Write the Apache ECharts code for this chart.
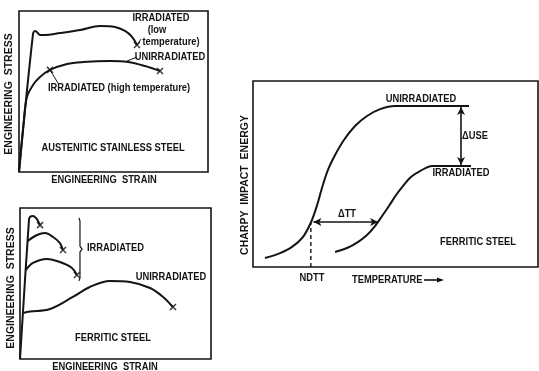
<!DOCTYPE html>
<html><head><meta charset="utf-8">
<script src="https://cdn.jsdelivr.net/npm/echarts@6/dist/echarts.min.js"></script>
<style>html,body{margin:0;padding:0;background:#fff}#c{width:539px;height:371px}</style>
</head><body><div id="c"></div>
<script>
// ---------- Panel 1: austenitic stainless steel (strain %, stress % of box) ----------
const austIrrLowStrain = [0, 7.4, 8.5, 9.5, 11.1, 13.8, 21.7, 32.3, 42.9, 50.8, 56.1, 59.8, 62.4];
const austIrrLowStress = [0, 85.7, 87.6, 87.0, 85.1, 85.1, 86.3, 88.2, 90.7, 90.1, 87.6, 83.9, 78.9];
const austUnirrStrain = [0, 2.6, 4.2, 7.4, 11.1, 16.4, 25.4, 33.9, 48.1, 57.7, 66.7, 74.6];
const austUnirrStress = [0, 32.3, 46.6, 54.0, 59.0, 63.4, 67.1, 68.3, 68.9, 68.3, 65.8, 62.7];
const austFractureStrain = [62.4, 16.4, 74.6];
const austFractureStress = [78.9, 63.4, 62.7];

// ---------- Panel 2: ferritic steel ----------
const ferrIrr1Strain = [0, 4.7, 5.2, 6.8, 8.4, 9.4, 10.5];
const ferrIrr1Stress = [0, 92.1, 94.0, 94.7, 93.4, 91.4, 88.7];
const ferrIrr2Strain = [4.0, 8.9, 13.1, 17.3, 20.9, 22.5];
const ferrIrr2Stress = [78.1, 82.1, 83.4, 80.8, 76.8, 72.2];
const ferrIrr3Strain = [3.0, 6.8, 14.1, 20.9, 27.2, 29.8];
const ferrIrr3Stress = [58.9, 63.6, 66.2, 64.2, 60.3, 55.6];
const ferrUnirrStrain = [1.6, 5.2, 15.7, 27.7, 36.6, 47.1, 57.6, 68.1, 74.9, 80.1];
const ferrUnirrStress = [30.5, 31.4, 33.1, 41.1, 47.7, 51.7, 51.0, 47.0, 41.1, 34.4];
const ferrFractureStrain = [10.5, 22.5, 29.8, 80.1];
const ferrFractureStress = [88.7, 72.2, 55.6, 34.4];
const braceStrain = [30.9, 31.4, 31.4, 32.5, 31.4, 31.4, 30.9];
const braceStress = [93.4, 91.4, 74.8, 72.8, 70.9, 53.6, 51.7];

// ---------- Panel 3: Charpy impact energy vs temperature ----------
const tempUnirr = [4.2, 9.5, 13.7, 17.5, 20.4, 22.5, 24.2, 26.3, 28.8, 31.9, 35.8, 40.0, 44.6, 49.8, 75.8];
const energyUnirr = [4.8, 7.5, 10.8, 16.1, 24.2, 33.3, 42.5, 52.2, 60.2, 68.3, 75.8, 81.2, 84.9, 86.6, 86.6];
const tempIrr = [28.8, 33.0, 36.8, 40.0, 42.8, 45.3, 47.7, 50.2, 52.6, 55.4, 58.6, 62.8, 76.5];
const energyIrr = [8.1, 10.2, 13.4, 17.2, 22.0, 27.4, 32.8, 38.7, 43.5, 48.4, 51.6, 54.3, 54.3];
const ndttTemp = 20.3, ndttEnergy = 24.2;
const dTTFrom = 21.2, dTTTo = 43.9;
const dUSETemp = 73.0, dUSETop = 86.0, dUSEBottom = 54.9;

const zip = (a, b) => a.map((v, i) => [v, b[i]]);
const INK = '#141414';
const FONT = '"Liberation Sans",Arial,sans-serif';
const XSYM = 'path://M0,0L10,10M10,0L0,10';

function curve(data, gi, sm) {
  return { type: 'line', data, xAxisIndex: gi, yAxisIndex: gi, smooth: sm || 0.35, showSymbol: false,
    symbol: 'none', lineStyle: { color: INK, width: 2 }, silent: true, z: 3 };
}
function straight(data, gi, w, dashed) {
  return { type: 'line', data, xAxisIndex: gi, yAxisIndex: gi, smooth: false, symbol: 'none',
    lineStyle: { color: INK, width: w || 1, type: dashed ? [4, 3] : 'solid' }, silent: true, z: 3 };
}
function marks(data, gi) {
  return { type: 'scatter', data, xAxisIndex: gi, yAxisIndex: gi, symbol: XSYM, symbolSize: 6,
    itemStyle: { color: 'transparent', borderColor: INK, borderWidth: 1.6 }, silent: true, z: 4 };
}
function arrow(from, to, gi) {
  return { type: 'line', data: [], xAxisIndex: gi, yAxisIndex: gi, silent: true,
    markLine: { silent: true, symbol: ['arrow', 'arrow'], symbolSize: [6, 8], label: { show: false },
      lineStyle: { color: INK, width: 1.6, type: 'solid' },
      data: [[{ coord: from }, { coord: to }]] } };
}
function txt(text, x, y, size, opts) {
  opts = opts || {};
  const sx = opts.sx == null ? 0.85 : opts.sx;
  return { type: 'text', x, y, rotation: opts.rot || 0, scaleX: sx, scaleY: 1, silent: true, z: 10,
    style: { text, x: 0, y: 0, fill: INK, font: 'bold ' + size + 'px ' + FONT,
      textAlign: opts.align || 'center', align: opts.align || 'center',
      textVerticalAlign: 'middle', verticalAlign: 'middle' } };
}

const grids = [
  { left: 19, top: 11, width: 189, height: 161 },
  { left: 20, top: 208, width: 191, height: 151 },
  { left: 253, top: 81, width: 285, height: 186 }
].map(g => Object.assign(g, { show: true, borderColor: INK, borderWidth: 1.6, backgroundColor: 'transparent', containLabel: false }));

const axisBase = { type: 'value', min: 0, max: 100, axisLine: { show: false }, axisTick: { show: false },
  axisLabel: { show: false }, splitLine: { show: false } };

const option = {
  animation: false,
  backgroundColor: '#fff',
  grid: grids,
  xAxis: [0, 1, 2].map(i => Object.assign({ gridIndex: i }, axisBase)),
  yAxis: [0, 1, 2].map(i => Object.assign({ gridIndex: i }, axisBase)),
  series: [
    curve(zip(austIrrLowStrain, austIrrLowStress), 0),
    curve(zip(austUnirrStrain, austUnirrStress), 0),
    marks(zip(austFractureStrain, austFractureStress), 0),
    straight([[16.4, 63.4], [20.6, 55.3]], 0, 1),
    straight([[57.1, 68.9], [62.4, 71.4]], 0, 1),
    straight([[62.4, 78.9], [64.6, 82.6]], 0, 1),

    curve(zip(ferrIrr1Strain, ferrIrr1Stress), 1),
    curve(zip(ferrIrr2Strain, ferrIrr2Stress), 1),
    curve(zip(ferrIrr3Strain, ferrIrr3Stress), 1),
    curve(zip(ferrUnirrStrain, ferrUnirrStress), 1),
    marks(zip(ferrFractureStrain, ferrFractureStress), 1),
    straight(zip(braceStrain, braceStress), 1, 1.2),

    curve(zip(tempUnirr, energyUnirr), 2, 0.3),
    curve(zip(tempIrr, energyIrr), 2, 0.3),
    straight([[ndttTemp, 0], [ndttTemp, ndttEnergy]], 2, 1.4, true),
    arrow([dTTFrom, ndttEnergy], [dTTTo, ndttEnergy], 2),
    arrow([dUSETemp, dUSETop], [dUSETemp, dUSEBottom], 2)
  ],
  graphic: [
    // panel 1
    txt('ENGINEERING  STRESS', 9, 94, 10.5, { rot: Math.PI / 2, sx: 1 }),
    txt('ENGINEERING  STRAIN', 104, 180, 11),
    txt('AUSTENITIC STAINLESS STEEL', 113, 148, 11),
    txt('IRRADIATED', 161, 18, 11),
    txt('(low', 157, 30, 11),
    txt('temperature)', 171, 42, 11),
    txt('UNIRRADIATED', 170, 57, 11),
    txt('IRRADIATED (high temperature)', 48, 88, 11, { align: 'left' }),
    // panel 2
    txt('ENGINEERING  STRESS', 11, 288, 10.5, { rot: Math.PI / 2, sx: 1 }),
    txt('ENGINEERING  STRAIN', 105, 367, 11),
    txt('FERRITIC STEEL', 113, 338, 11),
    txt('IRRADIATED', 87, 248, 11, { align: 'left' }),
    txt('UNIRRADIATED', 171, 277, 11),
    // panel 3
    txt('CHARPY  IMPACT  ENERGY', 245, 185, 10.5, { rot: Math.PI / 2, sx: 1 }),
    txt('UNIRRADIATED', 421, 99, 11),
    txt('IRRADIATED', 461, 173, 11),
    txt('\u0394USE', 462, 136, 11, { align: 'left' }),
    txt('\u0394TT', 347, 214, 11),
    txt('FERRITIC STEEL', 478, 242, 11),
    txt('NDTT', 312, 278, 11),
    txt('TEMPERATURE', 352, 280, 11, { align: 'left' }),
    { type: 'line', silent: true, z: 10, shape: { x1: 424, y1: 280, x2: 439, y2: 280 },
      style: { stroke: INK, lineWidth: 1.6 } },
    { type: 'polygon', silent: true, z: 10, shape: { points: [[437, 277.5], [444, 280], [437, 282.5]] },
      style: { fill: INK } }
  ]
};
echarts.init(document.getElementById('c'), null, { renderer: 'canvas' }).setOption(option);
</script></body></html>
